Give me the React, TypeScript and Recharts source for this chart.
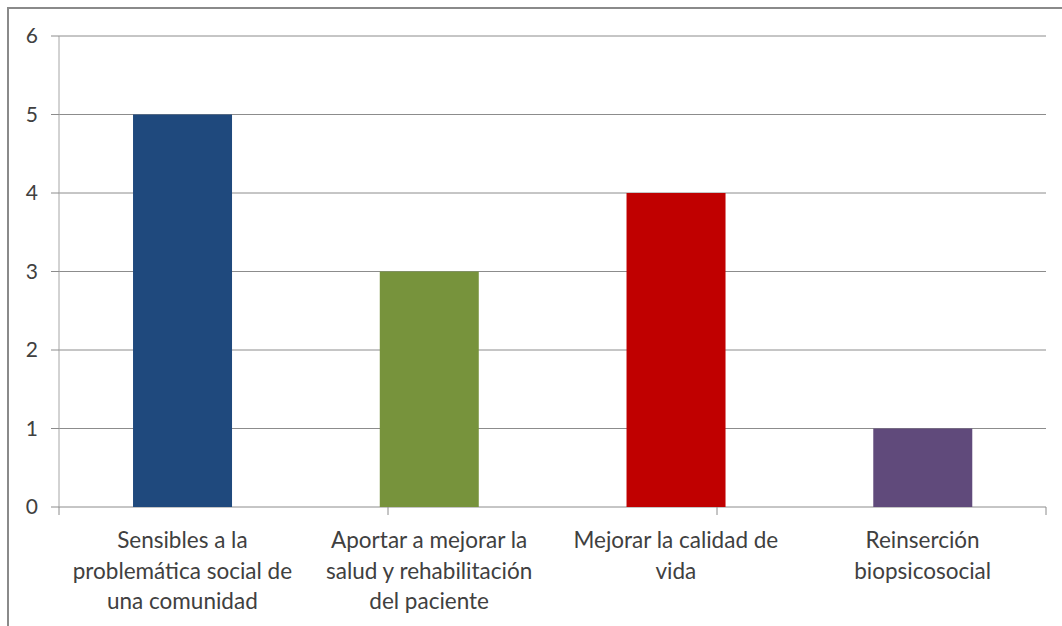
import React from "react";
import { BarChart, Bar, XAxis, YAxis, CartesianGrid, Cell } from "recharts";

// Category names; "\n" marks where each label wraps
const categories = [
  "Sensibles a la\nproblemática social de\nuna comunidad",
  "Aportar a mejorar la\nsalud y rehabilitación\ndel paciente",
  "Mejorar la calidad de\nvida",
  "Reinserción\nbiopsicosocial",
];
const values = [5, 3, 4, 1];
const barColors = ["#1F497D", "#77933C", "#C00000", "#604A7B"];
const yTicks = [0, 1, 2, 3, 4, 5, 6];
// Category boundaries, used for the small tick marks under the x axis
const boundaryTicks = [0, 1, 2, 3, 4];

const data = categories.map((name, i) => ({ name, value: values[i] }));

const TEXT = "#404040";
const GRID = "#8c8c8c";
const AXIS = "#a6a6a6";
const FONT = "Lato, 'Open Sans', sans-serif";

const CategoryTick = (props: any) => {
  const { x, y, payload } = props;
  const lines = String(payload.value).split("\n");
  return (
    <text x={x} y={y} textAnchor="middle" fill={TEXT} fontSize={22.5} fontFamily={FONT}>
      {lines.map((line, i) => (
        <tspan key={i} x={x} dy={i === 0 ? 40 : 30.5}>
          {line}
        </tspan>
      ))}
    </text>
  );
};

const NoLabel = () => <g />;

export default function App() {
  return (
    <div style={{ position: "absolute", left: 0, top: 0, width: 1062, height: 626, background: "#fff", overflow: "hidden" }}>
      <div
        style={{
          position: "absolute",
          left: 7,
          top: 7,
          width: 1055,
          height: 619,
          borderLeft: "2px solid #8a8a8a",
          borderTop: "2px solid #8a8a8a",
          boxSizing: "border-box",
        }}
      />
      <div style={{ position: "absolute", left: 0, top: 0 }}>
        <BarChart
          width={1062}
          height={626}
          data={data}
          margin={{ top: 36, right: 16, left: 0, bottom: 0 }}
          barCategoryGap="30%"
        >
          <CartesianGrid xAxisId="cat" yAxisId="val" vertical={false} stroke={GRID} strokeWidth={1} />
          <XAxis
            xAxisId="cat"
            dataKey="name"
            type="category"
            axisLine={false}
            tickLine={false}
            tickSize={0}
            tickMargin={0}
            interval={0}
            tick={<CategoryTick />}
            height={118}
          />
          <XAxis
            xAxisId="aEdges"
            type="number"
            domain={[0, 4]}
            ticks={boundaryTicks}
            interval={0}
            tick={<NoLabel />}
            axisLine={false}
            tickLine={{ stroke: GRID }}
            tickSize={8}
            height={1}
          />
          <YAxis
            yAxisId="val"
            domain={[0, 6]}
            ticks={yTicks}
            interval={0}
            width={59}
            axisLine={{ stroke: AXIS }}
            tickLine={{ stroke: GRID }}
            tickSize={8}
            tickMargin={13}
            tick={{ fill: TEXT, fontSize: 21, fontFamily: FONT }}
          />
          <Bar xAxisId="cat" yAxisId="val" dataKey="value" isAnimationActive={false}>
            {data.map((_, i) => (
              <Cell key={i} fill={barColors[i]} />
            ))}
          </Bar>
        </BarChart>
      </div>
    </div>
  );
}
